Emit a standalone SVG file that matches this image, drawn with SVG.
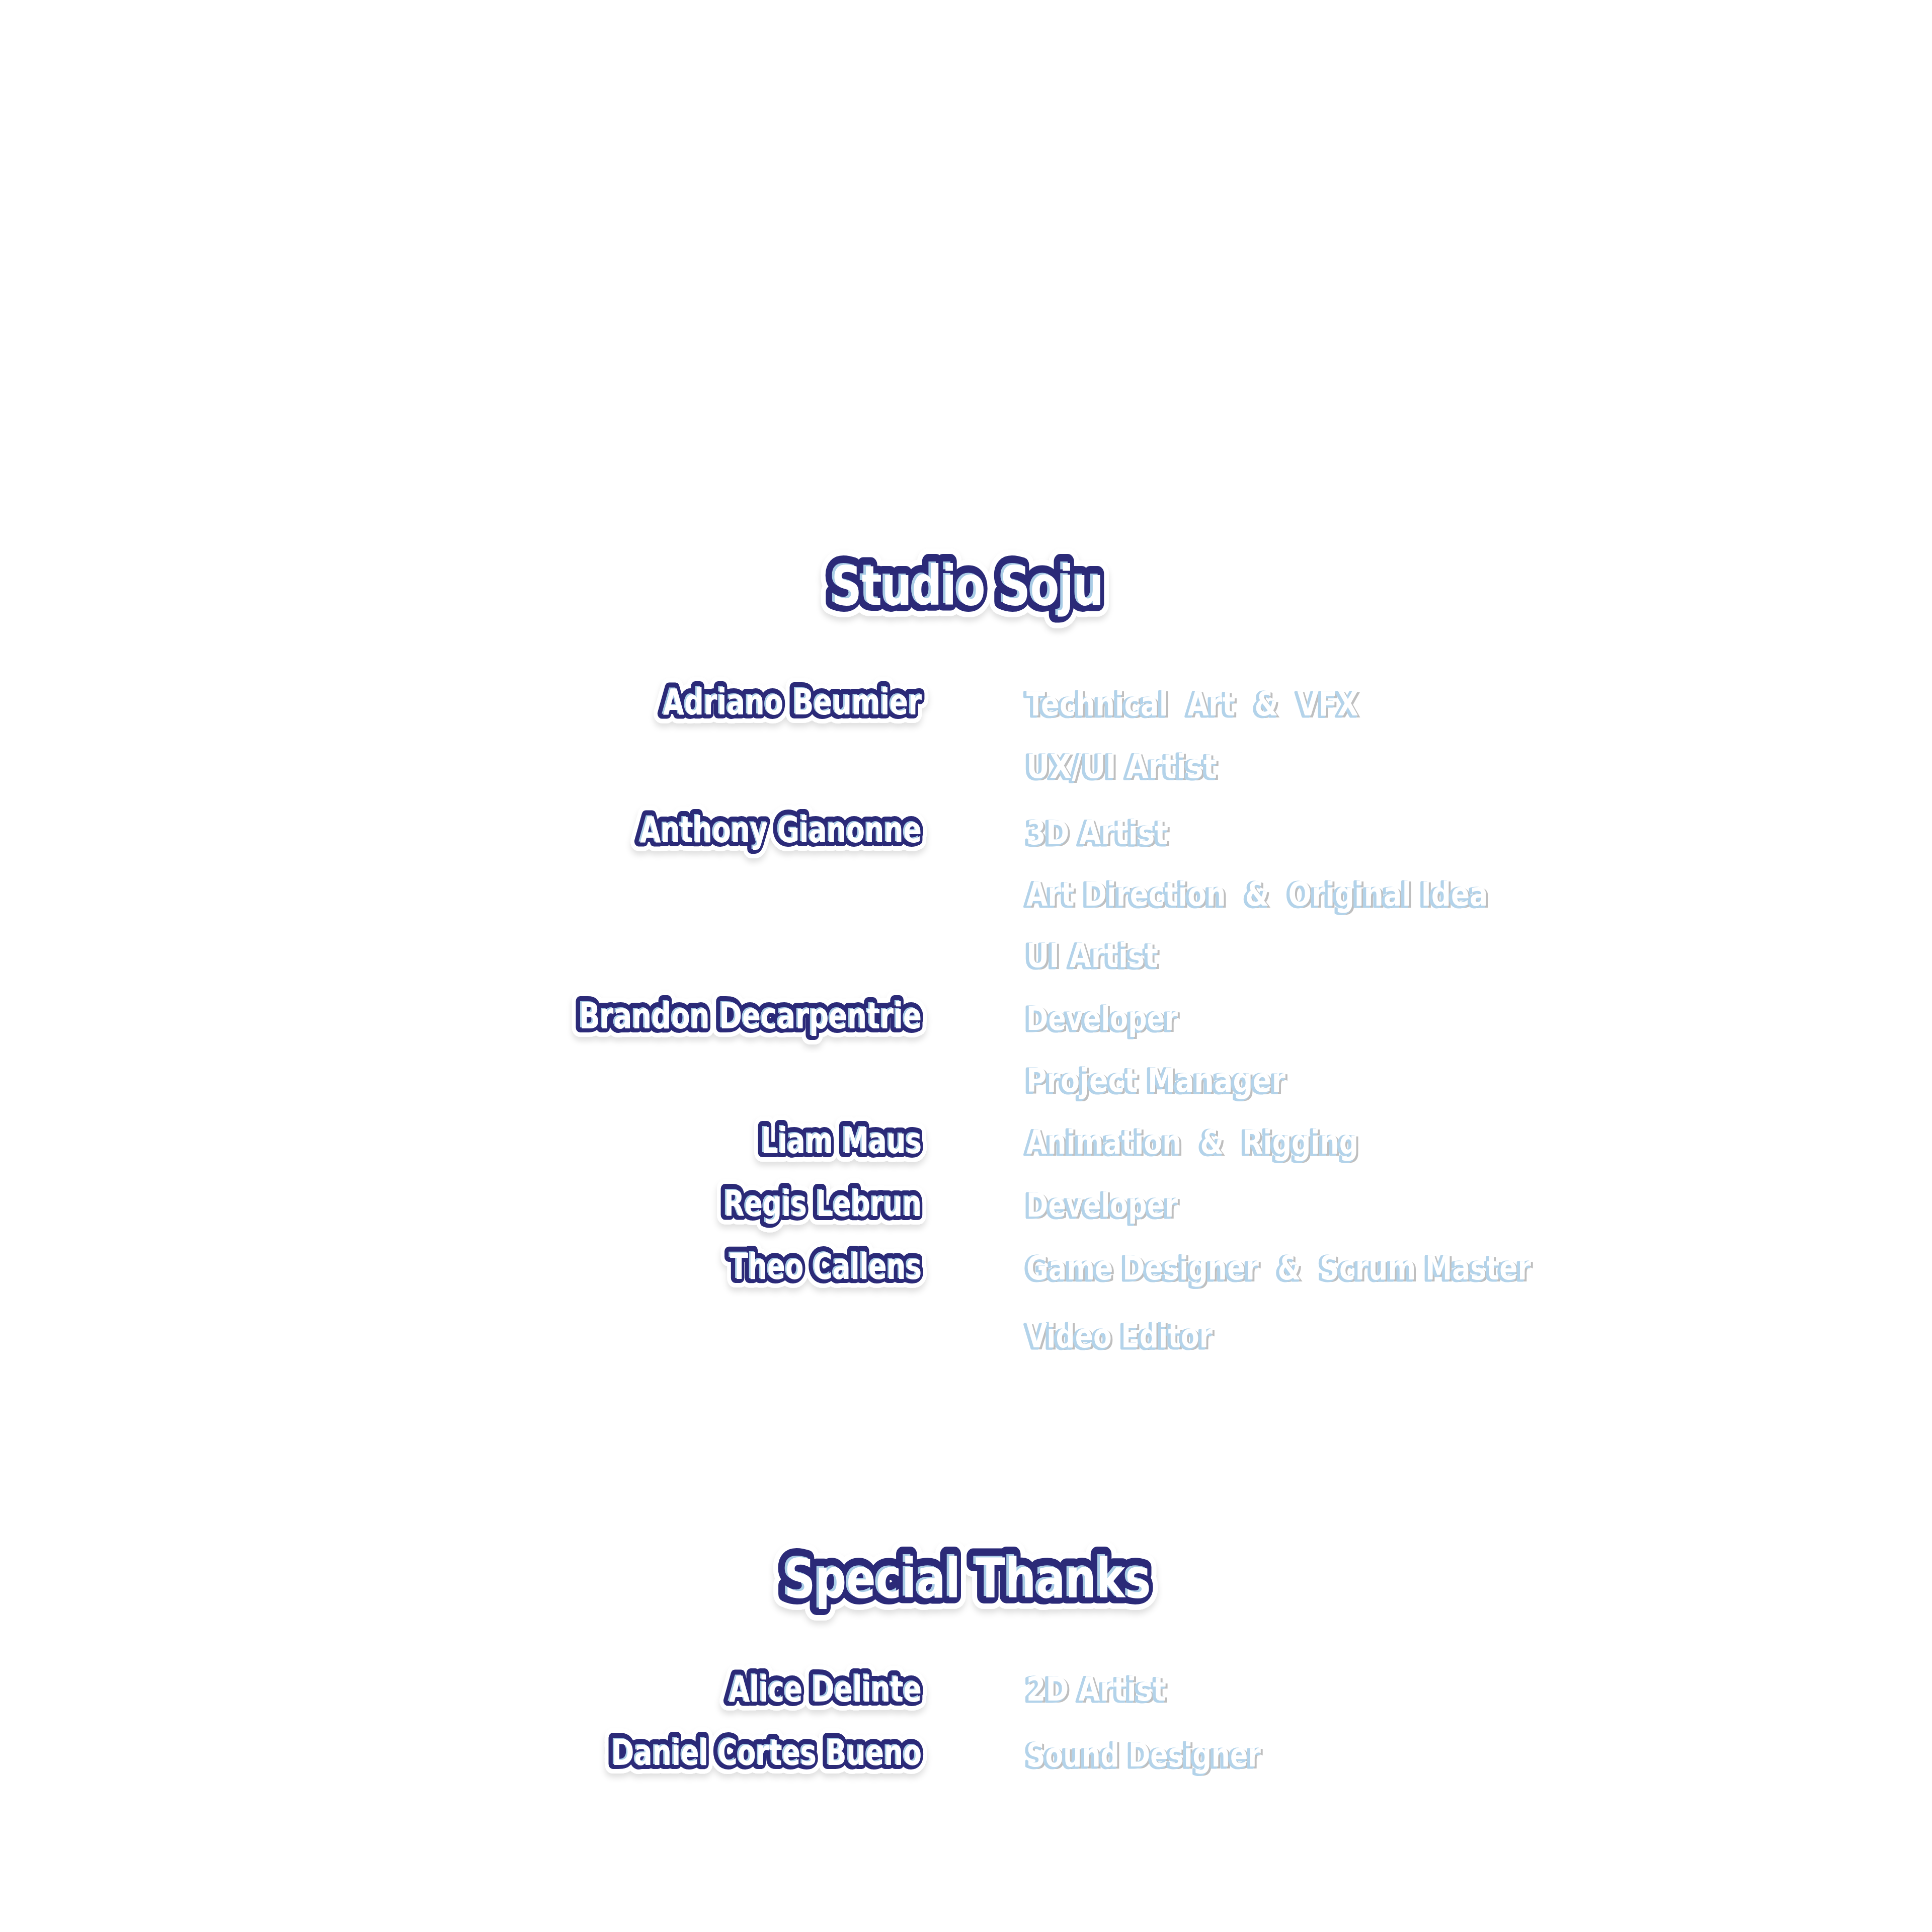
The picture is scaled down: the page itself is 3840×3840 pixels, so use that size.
<svg xmlns="http://www.w3.org/2000/svg" xmlns:xlink="http://www.w3.org/1999/xlink" width="3840" height="3840" viewBox="0 0 3840 3840">
<style>
.f{font-family:"DejaVu Sans Condensed","DejaVu Sans","Liberation Sans",sans-serif;font-weight:bold;}
.tt{font-size:109px;text-anchor:middle;}
.nm{font-size:71px;text-anchor:end;}
.rl{font-size:66px;text-anchor:start;white-space:pre;}
.halo{fill:#ffffff;stroke:#ffffff;stroke-linejoin:round;filter:url(#ds);}
.navy{fill:#2b2a78;stroke:#2b2a78;stroke-linejoin:round;}
.lb{fill:#a9cde6;}
.wh{fill:#ffffff;}
.T .halo{stroke-width:52px;}
.T .navy{stroke-width:30px;}
.N .halo{stroke-width:38px;}
.N .navy{stroke-width:20px;}
.rsh{fill:#8c8c8c;stroke:#8c8c8c;stroke-width:2px;opacity:0.55;}
.rlb{fill:#b3d3ea;stroke:#b3d3ea;stroke-width:5px;stroke-linejoin:round;}
</style>
<defs>
<filter id="ds" x="-10%" y="-30%" width="120%" height="170%">
<feDropShadow dx="0" dy="8" stdDeviation="6" flood-color="#000000" flood-opacity="0.12"/>
</filter>
<text id="t1" class="f tt" x="1918" y="1199" textLength="541" lengthAdjust="spacingAndGlyphs">Studio Soju</text>
<text id="t2" class="f tt" x="1918" y="3172" textLength="729" lengthAdjust="spacingAndGlyphs">Special Thanks</text>
<text id="n1" class="f nm" x="1829" y="1418" textLength="514" lengthAdjust="spacingAndGlyphs">Adriano Beumier</text>
<text id="n2" class="f nm" x="1829" y="1672" textLength="560" lengthAdjust="spacingAndGlyphs">Anthony Gianonne</text>
<text id="n3" class="f nm" x="1829" y="2042" textLength="681" lengthAdjust="spacingAndGlyphs">Brandon Decarpentrie</text>
<text id="n4" class="f nm" x="1829" y="2290" textLength="319" lengthAdjust="spacingAndGlyphs">Liam Maus</text>
<text id="n5" class="f nm" x="1829" y="2415" textLength="393" lengthAdjust="spacingAndGlyphs">Regis Lebrun</text>
<text id="n6" class="f nm" x="1829" y="2540" textLength="381" lengthAdjust="spacingAndGlyphs">Theo Callens</text>
<text id="n7" class="f nm" x="1829" y="3380" textLength="383" lengthAdjust="spacingAndGlyphs">Alice Delinte</text>
<text id="n8" class="f nm" x="1829" y="3506" textLength="616" lengthAdjust="spacingAndGlyphs">Daniel Cortes Bueno</text>
<text id="r1" class="f rl" x="2040" y="1422" textLength="660" lengthAdjust="spacingAndGlyphs" xml:space="preserve">Technical  Art  &amp;  VFX</text>
<text id="r2" class="f rl" x="2040" y="1546" textLength="379" lengthAdjust="spacingAndGlyphs">UX/UI Artist</text>
<text id="r3" class="f rl" x="2040" y="1678" textLength="282" lengthAdjust="spacingAndGlyphs">3D Artist</text>
<text id="r4" class="f rl" x="2040" y="1800" textLength="918" lengthAdjust="spacingAndGlyphs" xml:space="preserve">Art Direction  &amp;  Original Idea</text>
<text id="r5" class="f rl" x="2040" y="1922" textLength="262" lengthAdjust="spacingAndGlyphs">UI Artist</text>
<text id="r6" class="f rl" x="2040" y="2047" textLength="301" lengthAdjust="spacingAndGlyphs">Developer</text>
<text id="r7" class="f rl" x="2040" y="2170" textLength="515" lengthAdjust="spacingAndGlyphs">Project Manager</text>
<text id="r8" class="f rl" x="2040" y="2293" textLength="660" lengthAdjust="spacingAndGlyphs" xml:space="preserve">Animation  &amp;  Rigging</text>
<text id="r9" class="f rl" x="2040" y="2418" textLength="301" lengthAdjust="spacingAndGlyphs">Developer</text>
<text id="r10" class="f rl" x="2040" y="2543" textLength="1003" lengthAdjust="spacingAndGlyphs" xml:space="preserve">Game Designer  &amp;  Scrum Master</text>
<text id="r11" class="f rl" x="2040" y="2678" textLength="370" lengthAdjust="spacingAndGlyphs">Video Editor</text>
<text id="r12" class="f rl" x="2040" y="3380" textLength="278" lengthAdjust="spacingAndGlyphs">2D Artist</text>
<text id="r13" class="f rl" x="2040" y="3511" textLength="466" lengthAdjust="spacingAndGlyphs">Sound Designer</text>
</defs>
<rect width="3840" height="3840" fill="#ffffff"/>

<g id="title-studio-soju" class="T">
<use href="#t1" class="halo"/><use href="#t1" class="navy"/><use href="#t1" class="lb"/><use href="#t1" class="wh" x="5" y="3"/>
</g>
<g id="title-special-thanks" class="T">
<use href="#t2" class="halo"/><use href="#t2" class="navy"/><use href="#t2" class="lb"/><use href="#t2" class="wh" x="5" y="3"/>
</g>

<g id="name-adriano" class="N"><use href="#n1" class="halo"/><use href="#n1" class="navy"/><use href="#n1" class="lb"/><use href="#n1" class="wh" x="3" y="2"/></g>
<g id="name-anthony" class="N"><use href="#n2" class="halo"/><use href="#n2" class="navy"/><use href="#n2" class="lb"/><use href="#n2" class="wh" x="3" y="2"/></g>
<g id="name-brandon" class="N"><use href="#n3" class="halo"/><use href="#n3" class="navy"/><use href="#n3" class="lb"/><use href="#n3" class="wh" x="3" y="2"/></g>
<g id="name-liam" class="N"><use href="#n4" class="halo"/><use href="#n4" class="navy"/><use href="#n4" class="lb"/><use href="#n4" class="wh" x="3" y="2"/></g>
<g id="name-regis" class="N"><use href="#n5" class="halo"/><use href="#n5" class="navy"/><use href="#n5" class="lb"/><use href="#n5" class="wh" x="3" y="2"/></g>
<g id="name-theo" class="N"><use href="#n6" class="halo"/><use href="#n6" class="navy"/><use href="#n6" class="lb"/><use href="#n6" class="wh" x="3" y="2"/></g>
<g id="name-alice" class="N"><use href="#n7" class="halo"/><use href="#n7" class="navy"/><use href="#n7" class="lb"/><use href="#n7" class="wh" x="3" y="2"/></g>
<g id="name-daniel" class="N"><use href="#n8" class="halo"/><use href="#n8" class="navy"/><use href="#n8" class="lb"/><use href="#n8" class="wh" x="3" y="2"/></g>

<g id="role-technical-art"><use href="#r1" class="rsh" x="3" y="3"/><use href="#r1" class="rlb" x="-4" y="2"/><use href="#r1" class="wh"/></g>
<g id="role-uxui"><use href="#r2" class="rsh" x="3" y="3"/><use href="#r2" class="rlb" x="-4" y="2"/><use href="#r2" class="wh"/></g>
<g id="role-3d"><use href="#r3" class="rsh" x="3" y="3"/><use href="#r3" class="rlb" x="-4" y="2"/><use href="#r3" class="wh"/></g>
<g id="role-art-direction"><use href="#r4" class="rsh" x="3" y="3"/><use href="#r4" class="rlb" x="-4" y="2"/><use href="#r4" class="wh"/></g>
<g id="role-ui"><use href="#r5" class="rsh" x="3" y="3"/><use href="#r5" class="rlb" x="-4" y="2"/><use href="#r5" class="wh"/></g>
<g id="role-developer-1"><use href="#r6" class="rsh" x="3" y="3"/><use href="#r6" class="rlb" x="-4" y="2"/><use href="#r6" class="wh"/></g>
<g id="role-project-manager"><use href="#r7" class="rsh" x="3" y="3"/><use href="#r7" class="rlb" x="-4" y="2"/><use href="#r7" class="wh"/></g>
<g id="role-animation"><use href="#r8" class="rsh" x="3" y="3"/><use href="#r8" class="rlb" x="-4" y="2"/><use href="#r8" class="wh"/></g>
<g id="role-developer-2"><use href="#r9" class="rsh" x="3" y="3"/><use href="#r9" class="rlb" x="-4" y="2"/><use href="#r9" class="wh"/></g>
<g id="role-game-designer"><use href="#r10" class="rsh" x="3" y="3"/><use href="#r10" class="rlb" x="-4" y="2"/><use href="#r10" class="wh"/></g>
<g id="role-video-editor"><use href="#r11" class="rsh" x="3" y="3"/><use href="#r11" class="rlb" x="-4" y="2"/><use href="#r11" class="wh"/></g>
<g id="role-2d-artist"><use href="#r12" class="rsh" x="3" y="3"/><use href="#r12" class="rlb" x="-4" y="2"/><use href="#r12" class="wh"/></g>
<g id="role-sound-designer"><use href="#r13" class="rsh" x="3" y="3"/><use href="#r13" class="rlb" x="-4" y="2"/><use href="#r13" class="wh"/></g>

<g id="connectors"/>
</svg>
